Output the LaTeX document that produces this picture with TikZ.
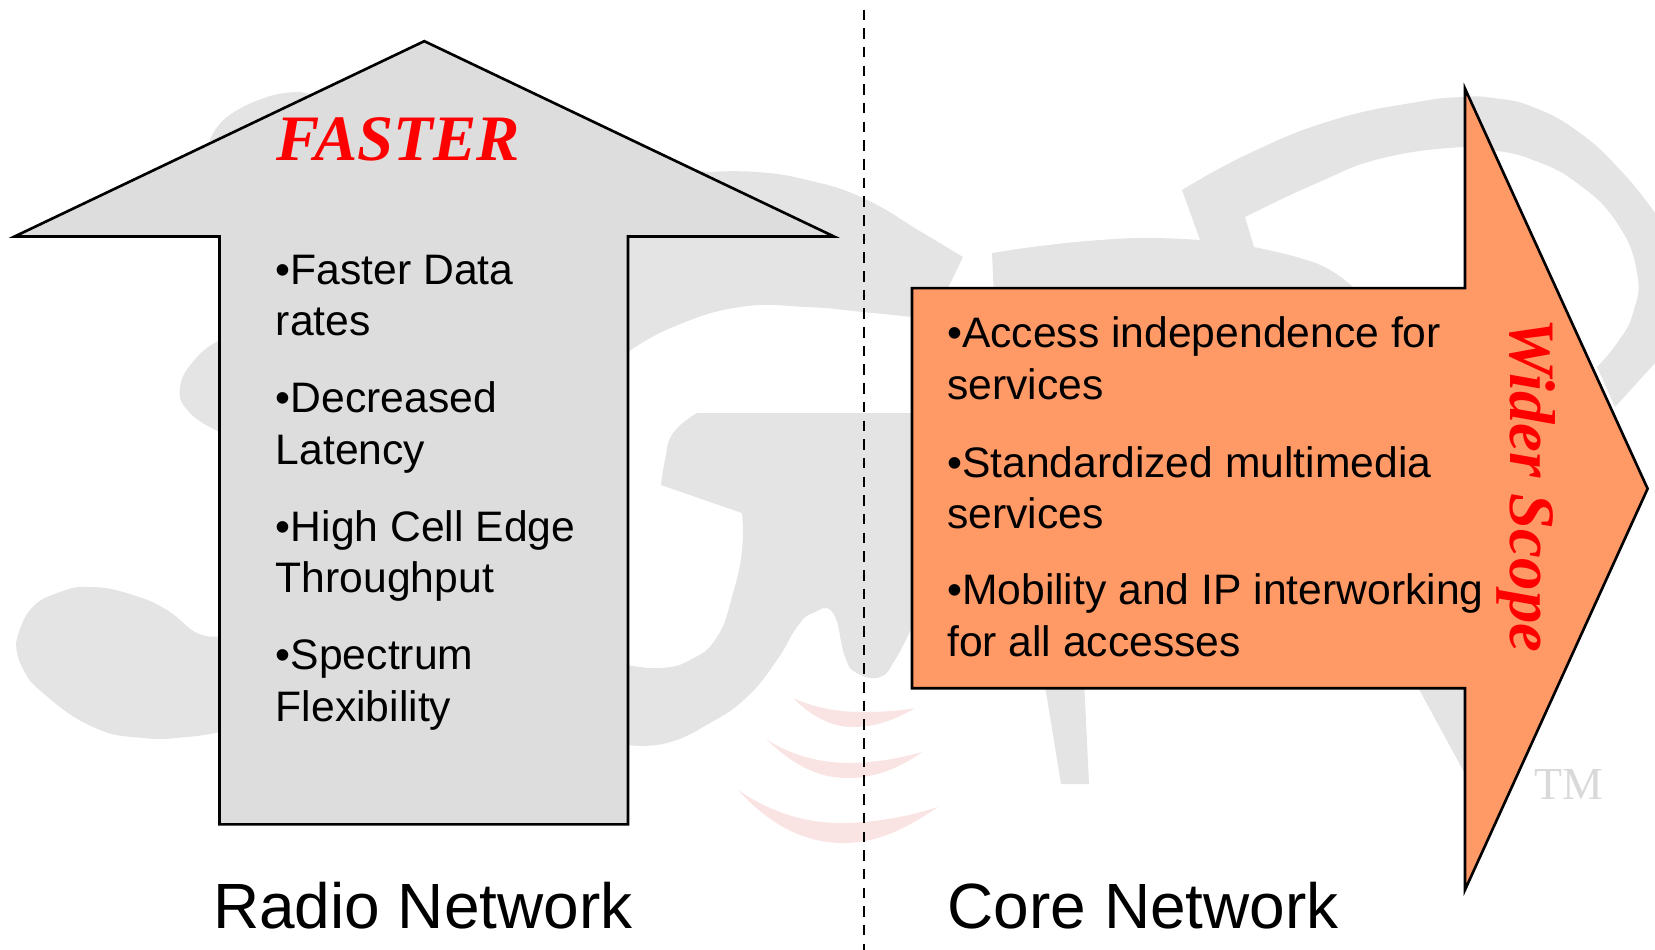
\documentclass[tikz,border=0pt]{standalone}
\usepackage{fontspec}
\setmainfont{Liberation Sans}
\newfontfamily\serifface{Liberation Serif}
\definecolor{wmgrey}{HTML}{E4E4E4}
\definecolor{wmred}{HTML}{F9E4E3}
\definecolor{upgrey}{HTML}{DDDDDD}
\definecolor{coreorange}{HTML}{FF9966}
\tikzset{
  smooth/.append style={tension=0.8},
  bigarrow/.style={draw=black,line width=1.25pt,miter limit=20},
  wm/.style={fill=wmgrey,draw=none},
  wave/.style={fill=wmred,draw=none},
  para/.style={inner sep=0pt,align=left,anchor=north west,font=\fontsize{20.2}{24.5}\selectfont,text=black},
  heading/.style={inner sep=0pt,anchor=base west,font=\fontsize{30.3}{36}\selectfont,text=black},
  shout/.style={inner sep=0pt,anchor=base west,font=\serifface\bfseries\itshape\fontsize{30.7}{36}\selectfont,text=red},
}
\begin{document}
\begin{tikzpicture}[x=0.5pt,y=-0.5pt]
\useasboundingbox (0,0) rectangle (1568,900);
% watermark, in full-size pixel units
\begin{scope}[x=0.47372pt,y=-0.47372pt]
\fill[wm] plot[smooth,tension=0.8] coordinates {(16,643) (30,610) (60,592) (93,587) (133,595) (167,610) (197,633) (220,636)}
  -- (628,665) -- plot[smooth,tension=0.8] coordinates {(628,665) (660,668) (690,660) (717,637) (733,593) (742,550) (742,513)}
  -- (661,485) -- plot[smooth,tension=0.8] coordinates {(661,485) (665,460) (673,433) (697,413)}
  -- (912,413) -- (912,627)
  -- plot[smooth,tension=0.8] coordinates {(912,627) (895,660) (880,677) (857,673) (845,657) (833,613) (813,613) (797,627) (777,660) (747,697) (710,723) (667,743) (628,745)}
  -- (220,732) -- plot[smooth,tension=0.8] coordinates {(220,732) (187,737) (143,738) (93,727) (43,693) (22,667) (16,643)} -- cycle;
\fill[wm] (260,250) -- (220,340) -- plot[smooth,tension=0.8] coordinates {(220,340) (197,357) (180,387) (190,413) (220,432)}
  -- (628,352) -- plot[smooth,tension=0.8] coordinates {(628,352) (673,327) (740,307) (807,307) (863,312) (912,317)}
  -- (948,288) -- (963,257) -- plot[smooth,tension=0.8] coordinates {(963,257) (923,233) (863,198) (807,180) (757,172) (707,172)}
  -- (300,92) -- plot[smooth,tension=0.8] coordinates {(300,92) (267,97) (227,117) (210,140)} -- cycle;
\fill[wm] (994,300) -- (992,253) -- plot[smooth,tension=0.8] coordinates {(992,253) (1040,246) (1100,240) (1150,238) (1200,240)}
  -- (1182,190) -- plot[smooth,tension=0.8] coordinates {(1182,190) (1250,153) (1333,120) (1417,102) (1463,97) (1493,98) (1533,107) (1580,133) (1623,173) (1655,213)}
  -- (1655,363) -- (1615,407)
  -- (1597,367) -- plot[smooth,tension=0.8] coordinates {(1597,367) (1617,343) (1633,313) (1637,273) (1617,223) (1577,183) (1533,160) (1493,150) (1463,147) (1383,158) (1317,183) (1245,217)}
  -- (1254,247) -- plot[smooth,tension=0.8] coordinates {(1254,247) (1300,258) (1330,270) (1353,287)} -- (1353,300) -- cycle;
\fill[wm] (1044,680) -- (1061,784) -- (1089,784) -- (1084,680) -- cycle;
\fill[wm] (1414,680) -- (1465,774) -- (1475,774) -- (1475,680) -- cycle;
\fill[wave] (793,698) .. controls (815,708) and (838,712) .. (863,712) .. controls (880,712) and (900,711) .. (915,708)
  .. controls (895,720) and (875,727) .. (853,727) .. controls (830,727) and (810,715) .. (793,698) -- cycle;
\fill[wave] (766,739) .. controls (790,755) and (820,763) .. (850,763) .. controls (875,763) and (900,758) .. (922,752)
  .. controls (900,768) and (875,778) .. (847,778) .. controls (815,778) and (790,762) .. (766,739) -- cycle;
\fill[wave] (738,790) .. controls (770,812) and (805,823) .. (840,823) .. controls (875,823) and (910,816) .. (938,807)
  .. controls (910,826) and (880,843) .. (843,843) .. controls (800,843) and (765,820) .. (738,790) -- cycle;
\end{scope}
\node[inner sep=0pt,anchor=base west,text=black!15,font=\serifface\fontsize{21.7}{25}\selectfont] (tm) at (1453,757) {TM};
% divider
\coordinate (divtop) at (818.5,9);
\coordinate (divbot) at (818.5,900);
\draw[black,line width=1.25pt,dash pattern=on 5pt off 3.85pt] (divtop) -- (divbot);
% arrows
\draw[bigarrow,fill=upgrey] (402,39) -- (790,224) -- (595,224) -- (595,781) -- (208,781) -- (208,224) -- (14,224) -- cycle;
\draw[bigarrow,fill=coreorange] (864,273) -- (1388,273) -- (1388,84) -- (1561,463) -- (1388,843) -- (1388,652) -- (864,652) -- cycle;
% headings
\node[shout] (faster) at (262,152.5) {FASTER};
\node[shout,rotate=-90] (wider) at (1431,301) {Wider Scope};
\node[heading] (radio) at (201.5,880) {Radio Network};
\node[heading] (core) at (897.5,880) {Core Network};
% left text
\node[para] (p1) at (261,241) {•Faster Data\\rates};
\node[para] (p2) at (261,361.5) {•Decreased\\Latency};
\node[para] (p3) at (261,483) {•High Cell Edge\\Throughput};
\node[para] (p4) at (261,606) {•Spectrum\\Flexibility};
% right text
\node[para] (q1) at (897,300) {•Access independence for\\services};
\node[para] (q2) at (897,422.5) {•Standardized multimedia\\services};
\node[para] (q3) at (897,543.5) {•Mobility and IP interworking\\for all accesses};
\end{tikzpicture}
\end{document}
